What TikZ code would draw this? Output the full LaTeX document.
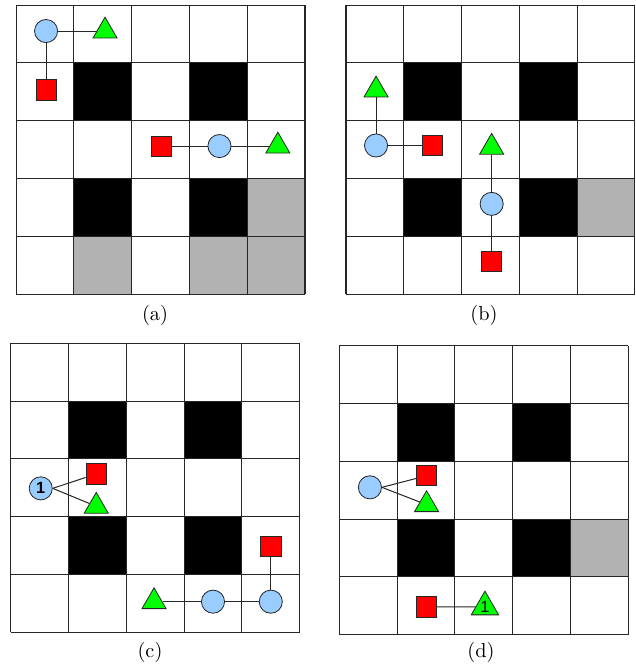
\documentclass[tikz,border=0pt]{standalone}
\usepackage{xcolor}
\usepackage{fontspec}
\newfontfamily\digitfont{Liberation Sans}
\usetikzlibrary{shapes.geometric, positioning}
\definecolor{agentblue}{HTML}{99CCFF}

\begin{document}
\begin{tikzpicture}[
    agent/.style={circle, draw=black!85, fill=agentblue, minimum size=0.4cm,
                  inner sep=0pt, font=\digitfont\bfseries\footnotesize},
    box/.style={rectangle, draw=black!85, fill=red, minimum size=0.35cm,
                inner sep=0pt},
    goal/.style={regular polygon, regular polygon sides=3, draw=black!85,
                 fill=green, minimum size=0.48cm, inner sep=0pt,
                 font=\digitfont\footnotesize},
    link/.style={draw=black!85, line width=0.5pt},
    cellline/.style={draw=black!85, line width=0.5pt},
    wall/.style={fill=black},
    dirt/.style={fill=black!30},
]
\useasboundingbox (0,0) rectangle (11.003,-11.626);

% boards
\foreach \px/\py/\dirty in {0.277/-0.087/{4/3,1/4,3/4,4/4},
                            5.986/-0.087/{4/3},
                            0.185/-5.939/{},
                            5.870/-5.981/{4/3}} {
  \begin{scope}[shift={(\px,\py)}, yscale=-1]
    \foreach \c/\r in {1/1,3/1,1/3,3/3}
      \fill[wall] (\c,\r) rectangle ++(1,1);
    \foreach \c/\r in \dirty
      \fill[dirt] (\c,\r) rectangle ++(1,1);
    \draw[cellline] (0,0) grid (5,5);
  \end{scope}
}

% (a)
\begin{scope}[shift={(0.277,-0.087)}, yscale=-1]
  \node[agent] (a-ag1) at (0.52,0.45) {};
  \node[goal]  (a-gl1) at (1.54,0.45) {};
  \node[box]   (a-bx1) at (0.52,1.47) {};
  \node[box]   (a-bx2) at (2.52,2.44) {};
  \node[agent] (a-ag2) at (3.52,2.44) {};
  \node[goal]  (a-gl2) at (4.53,2.44) {};
\end{scope}
\draw[link] (a-ag1) -- (a-gl1);
\draw[link] (a-ag1) -- (a-bx1);
\draw[link] (a-bx2) -- (a-ag2);
\draw[link] (a-ag2) -- (a-gl2);
\node (a-cap) at (2.682,-5.450) {(a)};

% (b)
\begin{scope}[shift={(5.986,-0.087)}, yscale=-1]
  \node[goal]  (b-gl1) at (0.52,1.47) {};
  \node[agent] (b-ag1) at (0.52,2.43) {};
  \node[box]   (b-bx1) at (1.50,2.43) {};
  \node[goal]  (b-gl2) at (2.52,2.46) {};
  \node[agent] (b-ag2) at (2.52,3.44) {};
  \node[box]   (b-bx2) at (2.52,4.43) {};
\end{scope}
\draw[link] (b-gl1) -- (b-ag1);
\draw[link] (b-ag1) -- (b-bx1);
\draw[link] (b-gl2) -- (b-ag2);
\draw[link] (b-ag2) -- (b-bx2);
\node (b-cap) at (8.374,-5.450) {(b)};

% (c)
\begin{scope}[shift={(0.185,-5.939)}, yscale=-1]
  \node[agent] (c-ag1) at (0.52,2.51) {1};
  \node[box]   (c-bx1) at (1.48,2.26) {};
  \node[goal]  (c-gl1) at (1.48,2.82) {};
  \node[box]   (c-bx2) at (4.50,3.51) {};
  \node[agent] (c-ag2) at (4.50,4.47) {};
  \node[agent] (c-ag3) at (3.50,4.47) {};
  \node[goal]  (c-gl2) at (2.48,4.47) {};
\end{scope}
\draw[link] (c-ag1.east) -- (c-bx1);
\draw[link] (c-ag1.east) -- (c-gl1);
\draw[link] (c-bx2) -- (c-ag2);
\draw[link] (c-ag2) -- (c-ag3);
\draw[link] (c-ag3) -- (c-gl2);
\node (c-cap) at (2.595,-11.280) {(c)};

% (d)
\begin{scope}[shift={(5.870,-5.981)}, yscale=-1]
  \node[agent] (d-ag1) at (0.53,2.45) {};
  \node[box]   (d-bx1) at (1.51,2.25) {};
  \node[goal]  (d-gl1) at (1.51,2.75) {};
  \node[box]   (d-bx2) at (1.51,4.52) {};
  \node[goal]  (d-gl2) at (2.52,4.52) {1};
\end{scope}
\draw[link] (d-ag1.east) -- (d-bx1);
\draw[link] (d-ag1.east) -- (d-gl1);
\draw[link] (d-bx2) -- (d-gl2);
\node (d-cap) at (8.322,-11.280) {(d)};
\end{tikzpicture}
\end{document}
